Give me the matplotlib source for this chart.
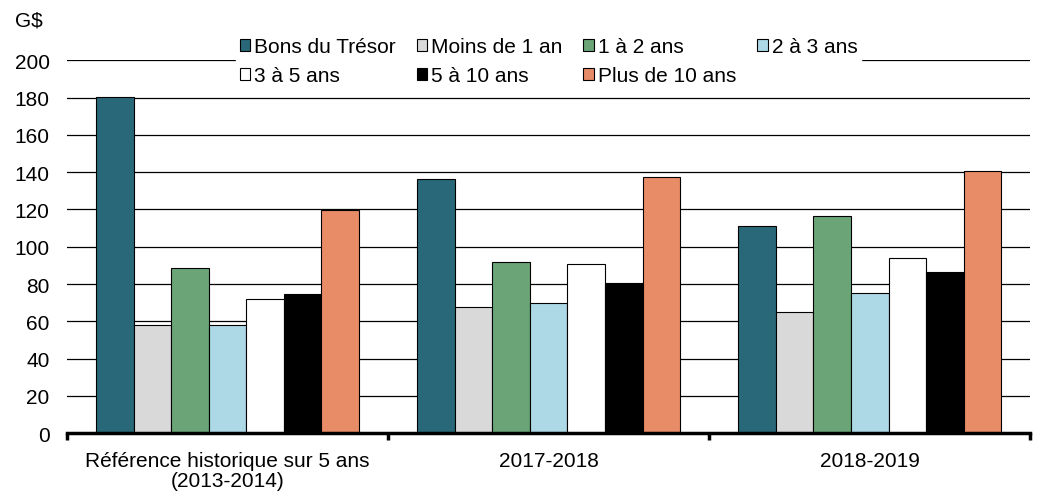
import matplotlib.pyplot as plt
import numpy as np

plt.rcParams['font.family'] = ['Liberation Sans', 'DejaVu Sans']

groupes = ['Référence historique sur 5 ans\n(2013-2014)', '2017-2018', '2018-2019']
series = ['Bons du Trésor', 'Moins de 1 an', '1 à 2 ans', '2 à 3 ans',
          '3 à 5 ans', '5 à 10 ans', 'Plus de 10 ans']
bons = [180.5, 136.5, 111.0]
moins_1 = [57.8, 67.8, 65.0]
un_deux = [88.5, 91.7, 116.4]
deux_trois = [57.8, 69.7, 75.0]
trois_cinq = [71.8, 90.6, 93.8]
cinq_dix = [74.5, 80.4, 86.3]
plus_10 = [119.6, 137.3, 140.5]
valeurs = [bons, moins_1, un_deux, deux_trois, trois_cinq, cinq_dix, plus_10]
couleurs = ['#296878', '#D9D9D9', '#6BA577', '#ADD8E6', '#FFFFFF', '#000000', '#E88B67']

fig = plt.figure(figsize=(10.46, 5.02), dpi=100)
ax = fig.add_axes([0.064, 0.135, 0.921, 0.743])

centres = np.arange(len(groupes)) + 0.5
w = 0.117
handles = []
for i, (nom, vals, c) in enumerate(zip(series, valeurs, couleurs)):
    b = ax.bar(centres + (i - 3) * w, vals, w, color=c, edgecolor='black',
               linewidth=0.8, label=nom, zorder=2)
    handles.append(b)

ax.set_xlim(0, 3)
ax.set_ylim(0, 200)
ax.set_yticks(range(0, 201, 20))
ax.yaxis.grid(True, color='black', linewidth=0.9)
ax.set_axisbelow(True)
ax.tick_params(axis='y', length=0, labelsize=15, pad=12.5)

ax.set_xticks([0, 1, 2, 3])
ax.set_xticklabels([])
ax.set_xticks(centres, minor=True)
ax.set_xticklabels(groupes, minor=True, fontsize=15, linespacing=1.05)
ax.tick_params(axis='x', which='major', length=5, width=2.5, direction='out')
ax.tick_params(axis='x', which='minor', length=0, pad=13)

for s in ['top', 'right', 'left']:
    ax.spines[s].set_visible(False)
ax.spines['bottom'].set_linewidth(2.5)

# ordre pour remplir la légende ligne par ligne
ordre = [0, 4, 1, 5, 2, 6, 3]
leg = fig.legend([handles[k] for k in ordre], [series[k] for k in ordre],
                 ncol=4, loc='center left', bbox_to_anchor=(0.226, 0.876),
                 fontsize=15, frameon=True, fancybox=False, edgecolor='white',
                 framealpha=1, handlelength=0.5, handleheight=0.5,
                 handletextpad=0.2, columnspacing=1.0, labelspacing=0.5,
                 borderpad=0.15, borderaxespad=0)
leg.set_zorder(5)

fig.text(0.014, 0.958, 'G$', fontsize=15, va='center')

fig.savefig('out.png', dpi=100)
